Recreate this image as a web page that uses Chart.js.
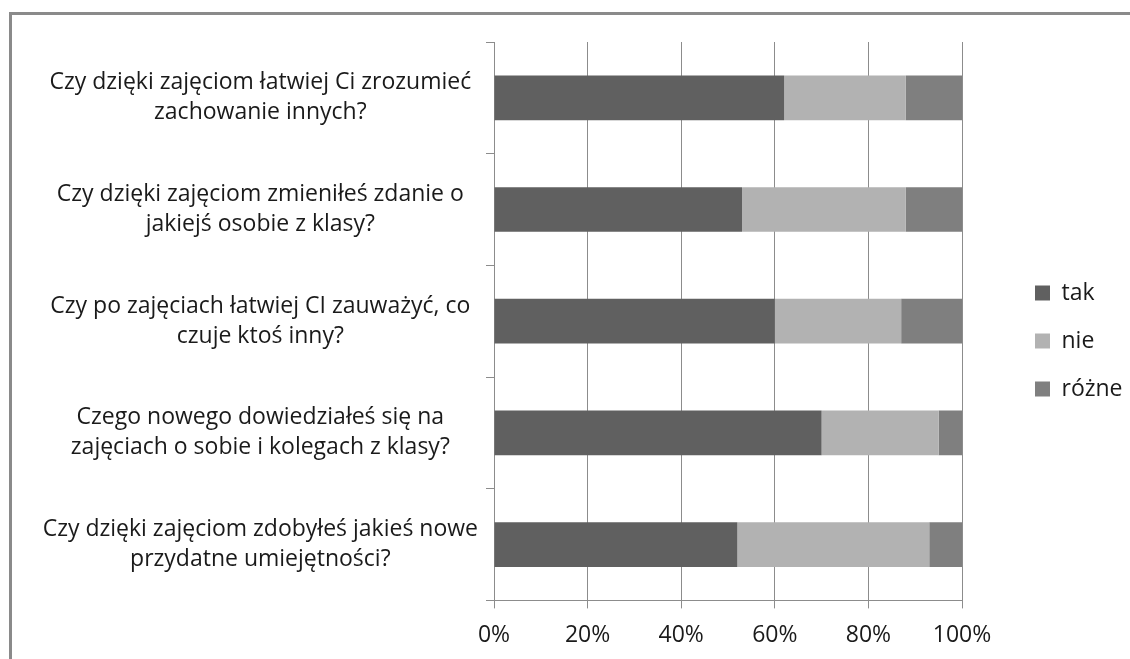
<!DOCTYPE html>
<html lang="pl">
<head>
<meta charset="utf-8">
<script src="https://cdn.jsdelivr.net/npm/chart.js@4.4.1/dist/chart.umd.min.js"></script>
<style>
  html, body { margin: 0; padding: 0; background: #fff; overflow: hidden; }
  #frame { position: absolute; left: 9px; top: 12px; width: 1200px; height: 700px;
           border-top: 3px solid #8a8a8a; border-left: 3px solid #8a8a8a; }
  #wrap { position: absolute; left: 0; top: 0; width: 1130px; height: 662px; }
</style>
</head>
<body>
<div id="frame"></div>
<div id="wrap"><canvas id="surveyChart"></canvas></div>
<script>
// Survey answers, share of pupils (%)
const questions = [
    ['Czy dzięki zajęciom łatwiej Ci zrozumieć', 'zachowanie innych?'],
    ['Czy dzięki zajęciom zmieniłeś zdanie o', 'jakiejś osobie z klasy?'],
    ['Czy po zajęciach łatwiej CI zauważyć, co', 'czuje ktoś inny?'],
    ['Czego nowego dowiedziałeś się na', 'zajęciach o sobie i kolegach z klasy?'],
    ['Czy dzięki zajęciom zdobyłeś jakieś nowe', 'przydatne umiejętności?']
];
const takValues = [62, 53, 60, 70, 52];
const nieValues = [26, 35, 27, 25, 41];
const rozneValues = [12, 12, 13, 5, 7];
const xTicks = [0, 20, 40, 60, 80, 100];

const gridColor = '#8c8c8c';
const textColor = '#1a1a1a';
const fontFamily = 'Open Sans';

const ctx = document.getElementById('surveyChart');
new Chart(ctx, {
    type: 'bar',
    data: {
        labels: questions,
        datasets: [{
            label: 'tak',
            data: takValues,
            backgroundColor: '#606060'
        }, {
            label: 'nie',
            data: nieValues,
            backgroundColor: '#b2b2b2'
        }, {
            label: 'różne',
            data: rozneValues,
            backgroundColor: '#7f7f7f'
        }]
    },
    options: {
        indexAxis: 'y',
        responsive: true,
        maintainAspectRatio: false,
        animation: false,
        categoryPercentage: 0.8,
        barPercentage: 0.5,
        layout: { padding: { top: 20, left: 12, right: 0, bottom: 0 } },
        plugins: {
            tooltip: { enabled: false },
            legend: {
                position: 'right',
                maxWidth: 120,
                labels: {
                    boxWidth: 15,
                    boxHeight: 15,
                    padding: 25,
                    color: textColor,
                    font: { family: fontFamily, size: 23 }
                }
            }
        },
        scales: {
            x: {
                stacked: true,
                min: 0,
                max: 100,
                afterBuildTicks: (scale) => { scale.ticks = xTicks.map(v => ({ value: v })); },
                grid: { color: gridColor, tickLength: 8 },
                border: { color: gridColor },
                ticks: {
                    color: textColor,
                    font: { family: fontFamily, size: 23 },
                    padding: 13,
                    callback: (value) => value + '%'
                }
            },
            y: {
                stacked: true,
                grid: { offset: true, drawOnChartArea: false, color: gridColor, tickLength: 8 },
                border: { color: gridColor },
                ticks: {
                    color: textColor,
                    font: { family: fontFamily, size: 23, lineHeight: 1.3 },
                    crossAlign: 'center',
                    padding: 8
                },
                afterFit: (scale) => { scale.width = 482; }
            },
            // empty axes that only keep space round the plot (above it, and before the legend)
            topSpace: {
                type: 'linear',
                position: 'top',
                grid: { display: false },
                border: { display: false },
                ticks: { display: false },
                afterFit: (scale) => { scale.height = 22; }
            },
            gap: {
                type: 'category',
                position: 'right',
                grid: { display: false },
                border: { display: false },
                ticks: { display: false },
                afterFit: (scale) => { scale.width = 48; }
            }
        }
    }
});
</script>
</body>
</html>
